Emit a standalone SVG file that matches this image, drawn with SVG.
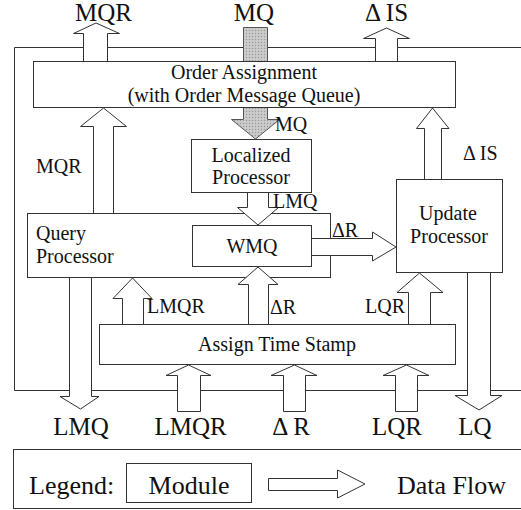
<svg xmlns="http://www.w3.org/2000/svg" width="521" height="510" viewBox="0 0 521 510">
<defs>
<pattern id="dots" width="3" height="3" patternUnits="userSpaceOnUse">
<rect width="3" height="3" fill="#c4c4c4"/>
<rect x="0" y="0" width="1" height="1" fill="#9a9a9a"/>
<rect x="1.5" y="1.5" width="1" height="1" fill="#e6e6e6"/>
</pattern>
<style>
.box{fill:#fff;stroke:#333;stroke-width:1}
.frame{fill:none;stroke:#333;stroke-width:1}
.arr{fill:#fff;stroke:#333;stroke-width:1;stroke-linejoin:miter}
.gray{fill:url(#dots);stroke:#555;stroke-width:1}
text{font-family:"Times New Roman","Liberation Serif",Tinos,"Nimbus Roman","Nimbus Roman No9 L","FreeSerif","Noto Serif","DejaVu Serif",Times,serif;fill:#111}
.big{font-size:25px}
.mid{font-size:20px}
.leg{font-size:26px}
.c{text-anchor:middle}
</style>
</defs>
<rect width="521" height="510" fill="#fff"/>
<g id="frame">
<path class="frame" d="M522 47.5 H14.5 V390.5 H522"/>
</g>
<g id="mq-input">
<path class="gray" d="M243.5 27.5 H267.5 V119.5 H279.5 L255.5 139 L231.5 119.5 H243.5 Z"/>
</g>
<g id="order-assignment">
<rect class="box" x="33.5" y="61.5" width="422" height="46"/>
<text class="mid c" x="244" y="79">Order Assignment</text>
<text class="mid c" x="244" y="102">(with Order Message Queue)</text>
</g>
<g id="localized-processor">
<rect class="box" x="191.5" y="139.5" width="120" height="53"/>
<text class="mid c" x="251" y="162">Localized</text>
<text class="mid c" x="251" y="184">Processor</text>
</g>
<g id="query-processor">
<rect class="box" x="27.5" y="213.5" width="303" height="64"/>
<text class="mid" x="36" y="240">Query</text>
<text class="mid" x="36" y="263">Processor</text>
</g>
<g id="update-processor">
<rect class="box" x="396.5" y="179.5" width="106" height="93"/>
<text class="mid c" x="448" y="220">Update</text>
<text class="mid c" x="449" y="243">Processor</text>
</g>
<g id="assign-time-stamp">
<rect class="box" x="99.5" y="324.5" width="356" height="40"/>
<text class="mid c" x="277" y="351">Assign Time Stamp</text>
</g>
<g id="connectors">
<path class="arr" d="M83.5 61 V33.5 H73.5 L96 23 L119.5 33.5 H107.5 V61"/>
<path class="arr" d="M375.5 61 V38.5 H363.5 L386.5 28 L409.5 38.5 H397.5 V61"/>
<path class="arr" d="M93.5 213 V126.5 H80.5 L103.5 108 L126.5 126.5 H113.5 V213"/>
<path class="arr" d="M424.5 179 V128.5 H416.5 L432.5 108 L449 128.5 H441.5 V179"/>
<path class="arr" d="M247.5 193 V207.5 H237.5 L258 225 L278.5 207.5 H268.5 V193"/>
<path class="arr" d="M312 238.5 H372.5 V232 L396 247 L372.5 261 V255.5 H312"/>
<path class="arr" d="M122.5 324 V298.5 H113 L132.5 278 L152 298.5 H143.5 V324"/>
<path class="arr" d="M248.5 324 V284.5 H238 L258 267 L278 284.5 H268.5 V324"/>
<path class="arr" d="M408.5 324 V292.5 H397 L419.5 273 L443 292.5 H430.5 V324"/>
<path class="arr" d="M69.5 278 V396.5 H60 L80.5 409 L99 396.5 H91.5 V278"/>
<path class="arr" d="M467.5 273 V395.5 H455 L479 410 L502 395.5 H490.5 V273"/>
<path class="arr" d="M177.5 411.5 V375.5 H166 L188.5 365 L211 375.5 H200.5 V411.5 Z"/>
<path class="arr" d="M283.5 411.5 V375.5 H271 L294.5 365 L317 375.5 H305.5 V411.5 Z"/>
<path class="arr" d="M395.5 411.5 V375.5 H383 L406.5 365 L429 375.5 H417.5 V411.5 Z"/>
</g>
<g id="wmq">
<rect class="box" x="192.5" y="225.5" width="119" height="41"/>
<text class="mid c" x="252" y="253">WMQ</text>
</g>
<g id="labels">
<text class="big c" x="103.5" y="21">MQR</text>
<text class="big c" x="254" y="21">MQ</text>
<text class="big c" x="386.5" y="21">Δ IS</text>
<text class="mid" x="275" y="131">MQ</text>
<text class="mid" x="36" y="173">MQR</text>
<text class="mid" x="463" y="160">Δ IS</text>
<text class="mid" x="273" y="208">LMQ</text>
<text class="mid" x="332" y="237">ΔR</text>
<text class="mid" x="147" y="313">LMQR</text>
<text class="mid" x="270" y="314">ΔR</text>
<text class="mid" x="365" y="313">LQR</text>
<text class="big c" x="81" y="435">LMQ</text>
<text class="big c" x="190.5" y="435">LMQR</text>
<text class="big c" x="291" y="435">Δ R</text>
<text class="big c" x="397" y="435">LQR</text>
<text class="big c" x="475" y="435">LQ</text>
</g>
<g id="legend">
<rect class="frame" x="13.5" y="449.5" width="520" height="59"/>
<text class="leg" x="29" y="494">Legend:</text>
<rect class="box" x="126.5" y="463.5" width="125" height="39"/>
<text class="leg c" x="189" y="494">Module</text>
<path class="arr" d="M268.5 478.5 H337.5 V470 L365 484 L337.5 498 V490.5 H268.5 Z"/>
<text class="leg" x="397" y="494">Data Flow</text>
</g>
</svg>
